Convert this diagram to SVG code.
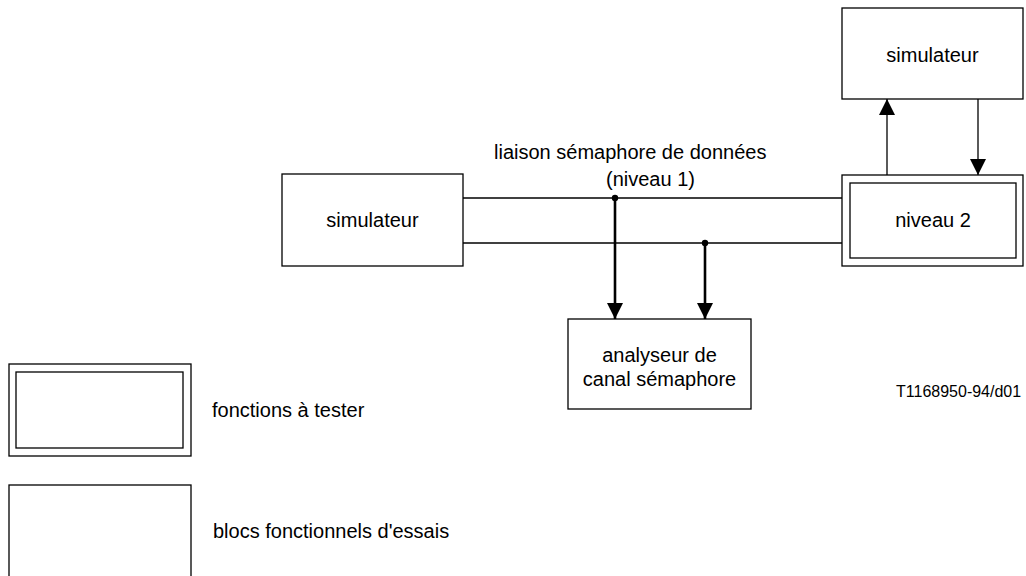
<svg xmlns="http://www.w3.org/2000/svg" width="1026" height="576" viewBox="0 0 1026 576">
<style>
.box{fill:#fff;stroke:#000;stroke-width:1.3}
.t{font-family:"Liberation Sans",Arial,sans-serif;font-size:20px;fill:#000}
.tc{text-anchor:middle}
.ln{fill:none;stroke:#000;stroke-width:1.3}
.thk{fill:none;stroke:#000;stroke-width:2.6}
</style>
<defs>
<marker id="ah" viewBox="0 0 16 16" refX="16" refY="8" markerWidth="16" markerHeight="16" markerUnits="userSpaceOnUse" orient="auto">
<path d="M0,0 L16,8 L0,16 Z" fill="#000"/>
</marker>
</defs>
<rect width="1026" height="576" fill="#fff"/>
<g id="connectors">
<line class="ln" x1="463" y1="198" x2="842" y2="198"/>
<line class="ln" x1="463" y1="243" x2="842" y2="243"/>
<circle cx="615" cy="198" r="3.2" fill="#000"/>
<circle cx="705" cy="243" r="3.2" fill="#000"/>
<line class="thk" x1="615" y1="198" x2="615" y2="319" marker-end="url(#ah)"/>
<line class="thk" x1="705" y1="243" x2="705" y2="319" marker-end="url(#ah)"/>
<line class="ln" x1="887" y1="175" x2="887" y2="99" marker-end="url(#ah)"/>
<line class="ln" x1="978" y1="99" x2="978" y2="175" marker-end="url(#ah)"/>
</g>
<g id="label-liaison">
<text class="t" x="494" y="159">liaison sémaphore de données</text>
<text class="t" x="606" y="186">(niveau 1)</text>
</g>
<g id="sim-left">
<rect class="box" x="282" y="174" width="181" height="92"/>
<text class="t tc" x="372.5" y="227">simulateur</text>
</g>
<g id="sim-top">
<rect class="box" x="842" y="8" width="181" height="91"/>
<text class="t tc" x="932.5" y="62">simulateur</text>
</g>
<g id="niveau2">
<rect class="box" x="842" y="175" width="181" height="91"/>
<rect class="box" x="850" y="183" width="166" height="75"/>
<text class="t tc" x="933" y="227">niveau 2</text>
</g>
<g id="analyseur">
<rect class="box" x="568" y="319" width="183" height="90"/>
<text class="t tc" x="659.5" y="362">analyseur de</text>
<text class="t tc" x="659.5" y="386">canal sémaphore</text>
</g>
<g id="legend-test">
<rect class="box" x="9" y="364" width="182" height="92"/>
<rect class="box" x="16" y="372" width="167" height="76"/>
<text class="t" x="212" y="417">fonctions à tester</text>
</g>
<g id="legend-blocs">
<rect class="box" x="9" y="485" width="182" height="95"/>
<text class="t" x="213" y="538">blocs fonctionnels d'essais</text>
</g>
<text class="t" x="896" y="397" font-size="16" style="font-size:16px">T1168950-94/d01</text>
</svg>
